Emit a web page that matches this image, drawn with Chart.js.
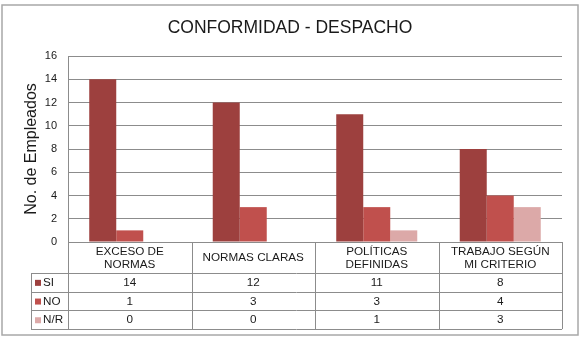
<!DOCTYPE html>
<html>
<head>
<meta charset="utf-8">
<script src="https://cdn.jsdelivr.net/npm/chart.js@4"></script>
<style>
  html, body { margin: 0; padding: 0; background: #fff; }
</style>
</head>
<body>
<canvas id="chart" width="580" height="337"></canvas>
<script>
// data
const categories = [["EXCESO DE", "NORMAS"], "NORMAS CLARAS", ["POLÍTICAS", "DEFINIDAS"], ["TRABAJO SEGÚN", "MI CRITERIO"]];
const seriesNames = ["SI", "NO", "N/R"];
const siValues = [14, 12, 11, 8];
const noValues = [1, 3, 3, 4];
const nrValues = [0, 0, 1, 3];
const yMax = 16;
const yStep = 2;

const colors = ["#9d403e", "#c0504d", "#dca9a8"];
const lineColor = "#8c8c8c";
const textColor = "#1a1a1a";
const FONT = "'Liberation Sans', Arial, sans-serif";

// draws title, outer frame and the data table under the plot
const tablePlugin = {
    id: "dataTable",
    afterDraw(chart) {
        const { ctx, chartArea: area, scales: { x } } = chart;
        const labels = chart.data.labels;
        const sets = chart.data.datasets;
        const step = (area.right - area.left) / labels.length;
        const headBottom = area.bottom + 31;
        const rowH = 18.7;
        const tableBottom = headBottom + rowH * sets.length;
        const keyLeft = 31;

        ctx.save();

        // outer frame
        ctx.strokeStyle = "#a8a8a8";
        ctx.lineWidth = 1.5;
        ctx.strokeRect(2, 5, 576, 330);

        // title
        ctx.fillStyle = textColor;
        ctx.font = "17.5px " + FONT;
        ctx.textAlign = "center";
        ctx.textBaseline = "middle";
        ctx.fillText("CONFORMIDAD - DESPACHO", 290, 28);

        // table grid
        ctx.strokeStyle = lineColor;
        ctx.lineWidth = 1;
        const hLine = (x0, x1, y) => {
            y = Math.round(y) + 0.5;
            ctx.beginPath(); ctx.moveTo(x0, y); ctx.lineTo(x1, y); ctx.stroke();
        };
        const vLine = (xx, y0, y1) => {
            xx = Math.round(xx) + 0.5;
            ctx.beginPath(); ctx.moveTo(xx, y0); ctx.lineTo(xx, y1); ctx.stroke();
        };
        hLine(area.left, area.right, area.bottom);
        for (let r = 0; r <= sets.length; r++) {
            hLine(keyLeft, area.right, headBottom + r * rowH);
        }
        vLine(keyLeft, headBottom, tableBottom);
        for (let i = 0; i <= labels.length; i++) {
            vLine(area.left + i * step, area.bottom, tableBottom);
        }

        // category header
        ctx.font = "11.7px " + FONT;
        ctx.fillStyle = textColor;
        labels.forEach((lab, i) => {
            const cx = x.getPixelForValue(i);
            const lines = Array.isArray(lab) ? lab : [lab];
            const midY = (area.bottom + headBottom) / 2 + 0.5;
            lines.forEach((ln, k) => {
                ctx.fillText(ln, cx, midY + (k - (lines.length - 1) / 2) * 12.6);
            });
        });

        // series rows
        sets.forEach((ds, r) => {
            const cy = headBottom + r * rowH + rowH / 2 + 0.5;
            ctx.fillStyle = ds.backgroundColor;
            ctx.fillRect(keyLeft + 4, cy - 3, 6, 6);
            ctx.fillStyle = textColor;
            ctx.textAlign = "left";
            ctx.fillText(ds.label, keyLeft + 12, cy);
            ctx.textAlign = "center";
            ds.data.forEach((v, i) => {
                ctx.fillText(String(v), x.getPixelForValue(i), cy);
            });
        });

        ctx.restore();
    }
};

const ctx = document.getElementById("chart").getContext("2d");
const chart = new Chart(ctx, {
    type: "bar",
    data: {
        labels: categories,
        datasets: [
            { label: seriesNames[0], data: siValues, backgroundColor: colors[0] },
            { label: seriesNames[1], data: noValues, backgroundColor: colors[1] },
            { label: seriesNames[2], data: nrValues, backgroundColor: colors[2] },
        ],
    },
    options: {
        responsive: false,
        animation: false,
        layout: { padding: { left: 0, right: 18, top: 56, bottom: 95 } },
        datasets: {
            bar: { categoryPercentage: 0.656, barPercentage: 1, borderWidth: 0 },
        },
        plugins: {
            legend: { display: false },
            tooltip: { enabled: false },
        },
        scales: {
            x: { display: false },
            y: {
                min: 0,
                max: yMax,
                afterFit(scale) { scale.width = 68; },
                ticks: {
                    stepSize: yStep,
                    padding: 11,
                    color: textColor,
                    font: { family: FONT, size: 11 },
                },
                grid: { color: lineColor, drawTicks: false },
                border: { display: true, color: lineColor },
                title: {
                    display: true,
                    text: "No. de Empleados",
                    color: textColor,
                    font: { family: FONT, size: 16 },
                    padding: { top: 22, bottom: 0 },
                },
            },
        },
    },
    plugins: [tablePlugin],
});
</script>
</body>
</html>
